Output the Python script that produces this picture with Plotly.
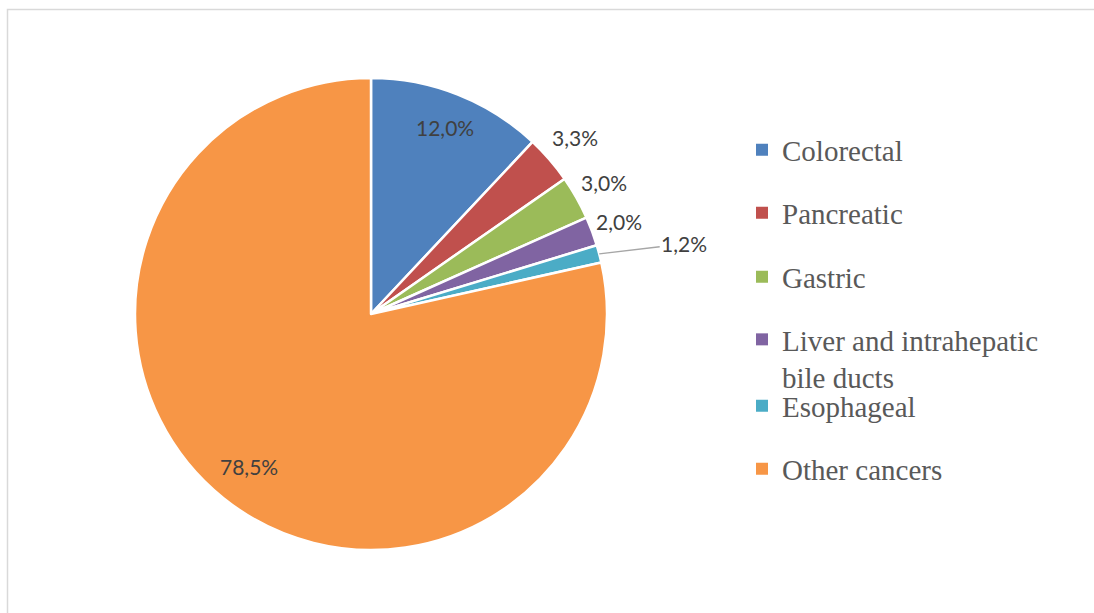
import math
import plotly.graph_objects as go

categories = ["Colorectal", "Pancreatic", "Gastric", "Liver and intrahepatic<br>bile ducts", "Esophageal", "Other cancers"]
values = [12.0, 3.3, 3.0, 2.0, 1.2, 78.5]
colors = ["#4F81BD", "#C0504D", "#9BBB59", "#8064A2", "#4BACC6", "#F79646"]

# styling: label distance from centre (fraction of radius), leader-line offsets
label_r = [0.85, 1.145, 1.135, 1.12, 1.0, 0.83]
leader = [None, None, None, None, (85, -10), None]
legend_y_px = [150, 213, 277, 358.5, 406, 469]

W, H = 1094, 613
cx, cy, R = 371, 314, 236

fig = go.Figure()
fig.add_trace(go.Pie(
    labels=categories, values=values, sort=False, direction="clockwise", rotation=0,
    marker=dict(colors=colors, line=dict(color="white", width=2.5)),
    textinfo="none", showlegend=False,
    domain=dict(x=[(cx - R) / W, (cx + R) / W], y=[1 - (cy + R) / H, 1 - (cy - R) / H]),
))

total = sum(values)
cum = 0.0
annotations = []
for v, rf, ld in zip(values, label_r, leader):
    theta = 2 * math.pi * (cum + v / 2) / total
    cum += v
    px = cx + rf * R * math.sin(theta)
    py = cy - rf * R * math.cos(theta)
    txt = f"{v / total * 100:.1f}%".replace(".", ",")
    ann = dict(x=px / W, y=1 - py / H, xref="paper", yref="paper", text=txt,
               font=dict(family="Lato", size=21, color="#404040"))
    if ld is None:
        ann.update(showarrow=False, xanchor="center", yanchor="middle")
    else:
        ann.update(showarrow=True, arrowhead=0, arrowwidth=1.5, arrowcolor="#A6A6A6",
                   ax=ld[0], ay=ld[1], standoff=0)
    annotations.append(ann)

for i, (cat, col, ypx) in enumerate(zip(categories, colors, legend_y_px)):
    lname = "legend" if i == 0 else f"legend{i+1}"
    fig.add_trace(go.Scatter(
        x=[None], y=[None], mode="markers", name=cat,
        marker=dict(symbol="square", size=10, color=col),
        legend=lname, showlegend=True,
    ))
    fig.update_layout({lname: dict(
        x=742 / W, xanchor="left", y=1 - ypx / H, yanchor="middle",
        valign="top",
        font=dict(family="Liberation Serif", size=29, color="#595959"),
        bgcolor="rgba(0,0,0,0)", itemsizing="constant",
    )})

fig.update_layout(
    width=W, height=H, margin=dict(l=0, r=0, t=0, b=0),
    paper_bgcolor="white", plot_bgcolor="white",
    xaxis=dict(visible=False), yaxis=dict(visible=False),
    annotations=annotations,
    shapes=[dict(type="rect", xref="paper", yref="paper",
                 x0=7.5 / W, x1=1.01, y0=-0.01, y1=1 - 9.5 / H,
                 line=dict(color="#D9D9D9", width=1.5))],
)
fig.write_html("out.html", config={"displayModeBar": False},
               post_script="document.body.style.margin='0px';")
